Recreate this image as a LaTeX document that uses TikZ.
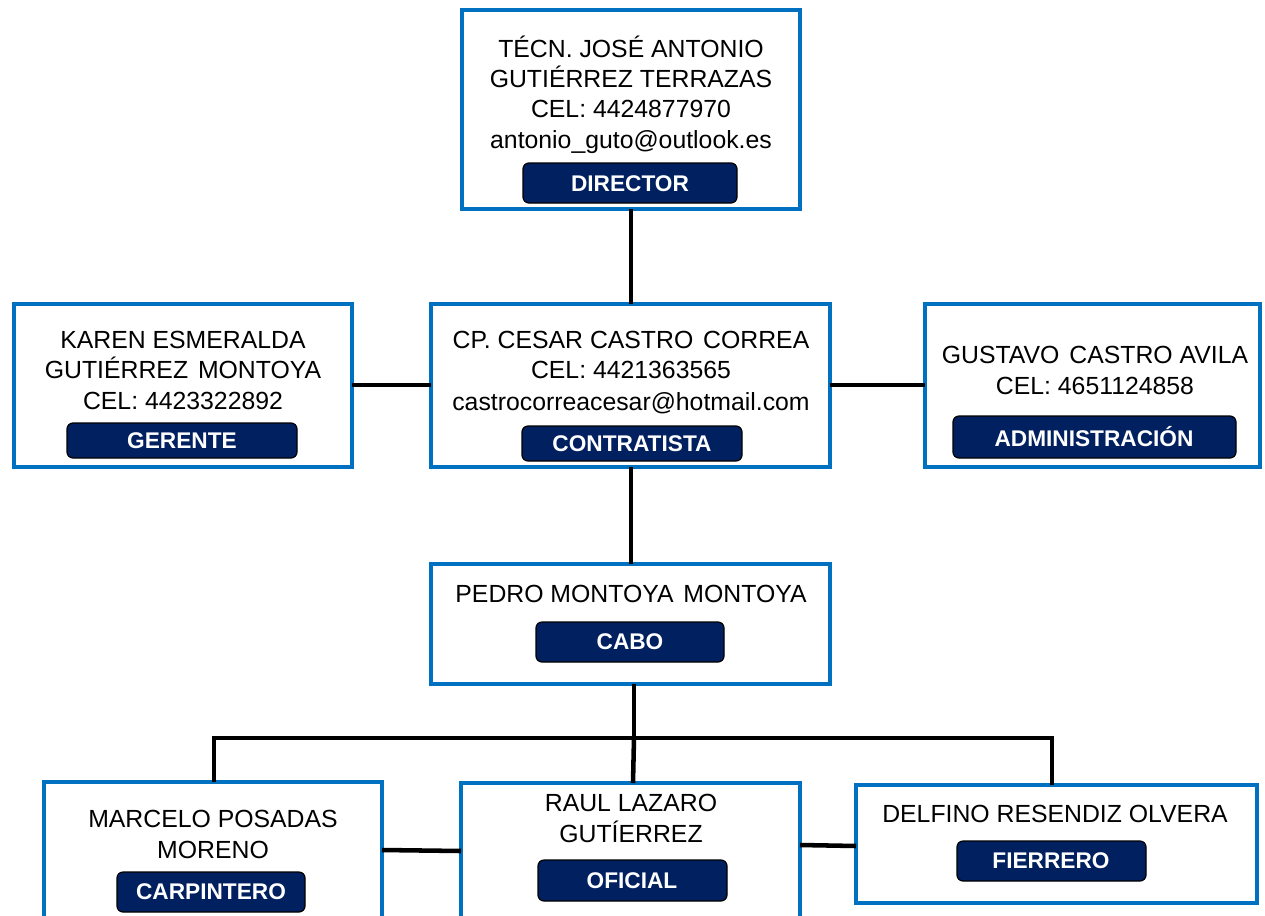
\documentclass[tikz,border=0pt]{standalone}
\usepackage{fontspec}
\setmainfont{Liberation Sans}
\definecolor{boxblue}{HTML}{0070C0}
\definecolor{navy}{HTML}{002060}
\newcommand{\wsp}{\ \hspace{0.12em}}
\begin{document}
\begin{tikzpicture}[x=0.75pt,y=-0.75pt,
  card/.style={draw=boxblue,line width=3pt,fill=white},
  tag/.style={draw=black,line width=0.9pt,fill=navy,rounded corners=4.5pt},
  tagtext/.style={text=white,font=\fontsize{17}{20}\selectfont\bfseries,inner sep=0pt},
  body/.style={text=black,font=\fontsize{18.6}{22.5}\selectfont,inner sep=0pt,align=center},
  link/.style={draw=black,line width=3.4pt}]
\useasboundingbox (0,0) rectangle (1265,915);
\clip (0,0) rectangle (1265,915);
% cards
\path[card] (462,10) rectangle (800,209);
\coordinate (dirB) at (631,209);
\path[card] (14,304) rectangle (352,467);
\coordinate (gerR) at (352,385);
\path[card] (431,304) rectangle (830,467);
\coordinate (conT) at (631,304); \coordinate (conB) at (631,467);
\coordinate (conL) at (431,385); \coordinate (conR) at (830,385);
\path[card] (925,304) rectangle (1260,467);
\coordinate (admL) at (925,385);
\path[card] (431,564) rectangle (830,684);
\coordinate (cabT) at (631,564); \coordinate (cabB) at (634,684);
\path[card] (44,782) rectangle (382,940);
\coordinate (carT) at (214,782); \coordinate (carR) at (382,850);
\path[card] (461,783) rectangle (800,940);
\coordinate (ofiT) at (633,783); \coordinate (ofiL) at (461,851); \coordinate (ofiR) at (800,845);
\path[card] (856,785) rectangle (1257,903);
\coordinate (fieT) at (1052,785); \coordinate (fieL) at (856,846);
% connectors
\draw[link] (dirB) -- (conT);
\draw[link] (gerR) -- (conL);
\draw[link] (conR) -- (admL);
\draw[link] (conB) -- (cabT);
\coordinate (bus) at (634,738);
\draw[link] (cabB) -- (bus);
\draw[link] (carT) -- (214,738) -| (fieT);
\draw[link] (bus) -- (ofiT);
\draw[link] (carR) -- (ofiL);
\draw[link] (ofiR) -- (fieL);
% tags
\path[tag] (523,163) rectangle (737,203); \node[tagtext] (tdir) at (630,184) {DIRECTOR};
\path[tag] (67,423) rectangle (297,458); \node[tagtext] (tger) at (182,441) {GERENTE};
\path[tag] (522,426) rectangle (742,461); \node[tagtext] (tcon) at (632,444) {CONTRATISTA};
\path[tag] (953,416) rectangle (1236,458); \node[tagtext] (tadm) at (1094,437) {ADMINISTRACIÓN};
\path[tag] (536,622) rectangle (724,662); \node[tagtext] (tcab) at (630,642) {CABO};
\path[tag] (117,872) rectangle (305,912); \node[tagtext] (tcar) at (211,892) {CARPINTERO};
\path[tag] (538,860) rectangle (727,901); \node[tagtext] (tofi) at (632,881) {OFICIAL};
\path[tag] (957,841) rectangle (1146,881); \node[tagtext] (tfie) at (1051,861) {FIERRERO};
% texts
\node[body,anchor=base] (n1) at (631,57) {TÉCN. JOSÉ ANTONIO};
\node[body,anchor=base] (n2) at (631,87) {GUTIÉRREZ TERRAZAS};
\node[body,anchor=base] (n3) at (631,117) {CEL: 4424877970};
\node[body,anchor=base] (n4) at (631,148) {antonio\_guto@outlook.es};
\node[body,anchor=base] (g1) at (183,348) {KAREN ESMERALDA};
\node[body,anchor=base] (g2) at (183,378) {GUTIÉRREZ\wsp MONTOYA};
\node[body,anchor=base] (g3) at (183,409) {CEL: 4423322892};
\node[body,anchor=base] (c1) at (631,348) {CP. CESAR CASTRO\wsp CORREA};
\node[body,anchor=base] (c2) at (631,378) {CEL: 4421363565};
\node[body,anchor=base] (c3) at (631,410) {castrocorreacesar@hotmail.com};
\node[body,anchor=base] (a1) at (1095,363) {GUSTAVO\wsp CASTRO AVILA};
\node[body,anchor=base] (a2) at (1095,394) {CEL: 4651124858};
\node[body,anchor=base] (p1) at (631,602) {PEDRO MONTOYA\wsp MONTOYA};
\node[body,anchor=base] (m1) at (213,827) {MARCELO POSADAS};
\node[body,anchor=base] (m2) at (213,858) {MORENO};
\node[body,anchor=base] (r1) at (631,811) {RAUL LAZARO};
\node[body,anchor=base] (r2) at (631,842) {GUTÍERREZ};
\node[body,anchor=base] (d1) at (1055,822) {DELFINO RESENDIZ OLVERA};
\end{tikzpicture}
\end{document}
